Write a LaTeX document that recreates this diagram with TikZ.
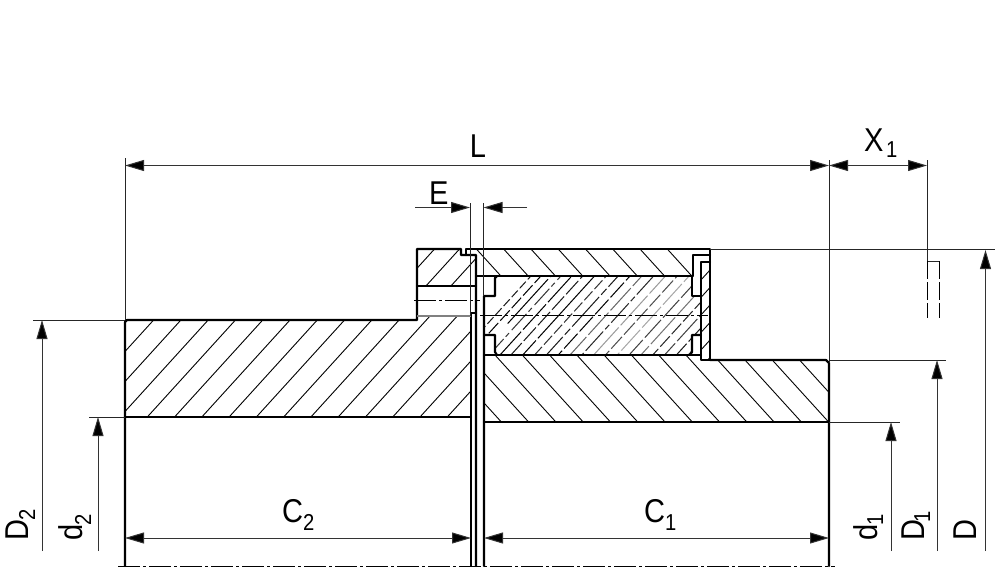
\documentclass[tikz,border=0pt]{standalone}
\usepackage{fontspec}
\setmainfont[FakeStretch=0.88]{Liberation Sans}
\usetikzlibrary{arrows.meta}
\newcommand{\rhatch}[3]{% rising lines: y+1.1x=c
  \foreach \k in {0,...,#3}{\pgfmathsetmacro{\cc}{#1+\k*#2}
    \draw[hatchline] (100,{\cc-110}) -- (850,{\cc-935});}}
\newcommand{\fhatch}[3]{% falling lines: y-1.1x=c
  \foreach \k in {0,...,#3}{\pgfmathsetmacro{\cc}{#1+\k*#2}
    \draw[hatchline] (100,{\cc+110}) -- (850,{\cc+935});}}
\tikzset{
  hatchline/.style={line width=0.9pt,black},
  thickline/.style={line width=2.2pt,black,line cap=round,line join=round},
  thinline/.style={line width=1pt,black!85},
  dimline/.style={line width=1pt,black!80,{Triangle[length=19pt,width=11pt,fill=black]}-{Triangle[length=19pt,width=11pt,fill=black]}},
  dimup/.style={line width=1pt,black!80,-{Triangle[length=19pt,width=11pt,fill=black]}},
  centerline/.style={line width=0.9pt,black,dash pattern=on 22pt off 3pt on 3pt off 3pt},
  holeline/.style={line width=0.9pt,black,dash pattern=on 18pt off 3pt},
  lab/.style={inner sep=0pt,font=\fontsize{33}{33}\selectfont},
  sublab/.style={inner sep=0pt,font=\fontsize{23}{23}\selectfont}
}
\begin{document}
\begin{tikzpicture}[x=1pt,y=-1pt]
\useasboundingbox (0,0) rectangle (997,568);
% hatching
\begin{scope}
\clip (125,320) -- (417,320) -- (417,316) -- (471,316) -- (471,417) -- (125,417) -- cycle;
\rhatch{489}{30}{16}
\end{scope}
\begin{scope}
\clip (417,249) -- (461,249) -- (461,255) -- (476,255) -- (476,286) -- (417,286) -- cycle;
\rhatch{727}{27.5}{3}
\end{scope}
\begin{scope}
\clip (466,249) -- (710,249) -- (710,255) -- (693,255) -- (693,276) -- (476,276) -- (476,255) -- (466,255) -- cycle;
\fhatch{-485}{30}{7}
\end{scope}
\begin{scope}
\clip (484,355) -- (701,355) -- (701,360) -- (829,360) -- (829,422) -- (484,422) -- cycle;
\fhatch{-519.5}{30}{14}
\end{scope}
\begin{scope}
\clip (701,262) -- (710,262) -- (710,360) -- (701,360) -- cycle;
\rhatch{1016}{17.5}{8}
\end{scope}
% elastomer hatching
\begin{scope}
\clip (484,296) -- (495,296) -- (495,278) -- (497,276) -- (690,276) -- (692,278) -- (692,296) -- (701,296) -- (701,335) -- (692,335) -- (692,352) -- (690,355) -- (497,355) -- (495,352) -- (495,335) -- (484,335) -- cycle;
\foreach \c/\g/\dsh in {
  860/90/{on 9pt off 3pt},
  871/100/{on 14pt off 3pt},
  882/100/{on 60pt off 3pt on 8pt off 30pt},
  893/80/{on 22pt off 3pt on 5pt off 4pt},
  905/100/{on 34pt off 3pt},
  917/90/{on 18pt off 3pt},
  930/100/{on 90pt off 3pt},
  943/80/{on 12pt off 3pt},
  956/90/{on 40pt off 3pt on 8pt off 3pt},
  969/100/{on 20pt off 3pt},
  982/60/{on 30pt off 3pt},
  995/85/{on 26pt off 3pt on 6pt off 3pt},
  1008/40/{on 40pt off 3pt},
  1021/70/{on 16pt off 3pt},
  1034/35/{on 28pt off 3pt},
  1047/75/{on 24pt off 3pt},
  1060/55/{on 36pt off 3pt},
  1073/85/{on 14pt off 3pt},
  1086/75/{on 30pt off 3pt},
  1099/90/{on 22pt off 3pt},
  1112/85/{on 18pt off 3pt},
  1125/85/{on 12pt off 3pt}}{
  \edef\tmp{\noexpand\draw[line width=1pt,black!\g,dash pattern=\dsh]}
  \tmp (100,{\c-110}) -- (850,{\c-935});
}
\end{scope}
% outlines: left hub and flange
\draw[thickline] (125,566) -- (125,322) -- (127,320) -- (417,320) -- (417,249) -- (461,249) -- (461,255) -- (476,255) -- (476,566);
\draw[thickline] (471,313) -- (471,566);
\draw[thickline] (471,313) -- (476,313);
\draw[thickline] (125,417) -- (471,417);
\draw[thickline] (417,286) -- (476,286);
\draw[line width=1.2pt,black!50] (417,316) -- (471,316);
% outlines: right hub and ring
\draw[thickline] (466,255) -- (466,249) -- (710,249) -- (710,360) -- (701,360) -- (701,262) -- (710,262);
\draw[thickline] (476,276) -- (692,276);
\draw[thickline] (693,276) -- (693,255) -- (710,255);
\draw[thickline] (692,276) -- (692,296) -- (701,296);
\draw[thickline] (484,566) -- (484,296) -- (495,296) -- (495,278) -- (497,276);
\draw[thickline] (484,335) -- (495,335) -- (495,352) -- (497,355);
\draw[thickline] (484,355) -- (701,355);
\draw[thickline] (701,335) -- (692,335) -- (692,352) -- (690,355);
\draw[thickline] (710,360) -- (826,360) -- (829,363) -- (829,566);
\draw[thickline] (484,422) -- (829,422);
% centre lines
\draw[centerline] (118,566) -- (835,566);
\draw[centerline] (414,300) -- (480,300);
\draw[centerline] (480,315.5) -- (708,315.5);
% witness lines
\draw[thinline] (125,158) -- (125,320);
\draw[thinline] (829,160) -- (829,363);
\draw[thinline] (927,160) -- (927,261);
\draw[thinline] (470,203) -- (470,316);
\draw[thinline] (483.5,203) -- (483.5,296);
\draw[thinline] (710,249) -- (995,249);
\draw[thinline] (33,320) -- (125,320);
\draw[thinline] (89,417) -- (125,417);
\draw[thinline] (829,360) -- (946,360);
\draw[thinline] (829,422) -- (900,422);
% hidden detail
\draw[thinline] (927,261) -- (939.5,261);
\draw[holeline] (927,261) -- (927,318);
\draw[holeline] (939.5,261) -- (939.5,318);
% dimensions
\draw[dimline] (125,165.5) -- (829,165.5);
\draw[dimline] (829,165.5) -- (927,165.5);
\draw[dimup] (415,207.5) -- (470,207.5);
\draw[dimup] (527,207.5) -- (483.5,207.5);
\draw[dimline] (125,538) -- (471,538);
\draw[dimline] (484,538) -- (829,538);
\draw[dimup] (42,551) -- (42,320);
\draw[dimup] (98,551) -- (98,417);
\draw[dimup] (891,551) -- (891,422);
\draw[dimup] (937,551) -- (937,360);
\draw[dimup] (985.5,551) -- (985.5,250);
% labels
\node[lab,anchor=base] (tL) at (478,157) {L};
\node[lab,anchor=base west] (tE) at (429,204) {E};
\node[lab,anchor=base west] (tX) at (864,151) {X};
\node[sublab,anchor=base west] (tXs) at (886,157) {1};
\node[lab,anchor=base west] (tCa) at (282,522) {C};
\node[sublab,anchor=base west] (tCas) at (303,530) {2};
\node[lab,anchor=base west] (tCb) at (644,522) {C};
\node[sublab,anchor=base west] (tCbs) at (665,530) {1};
\node[lab,rotate=90,anchor=base west] (tD2) at (28,541) {D};
\node[sublab,rotate=90,anchor=base west] (tD2s) at (35,521) {2};
\node[lab,rotate=90,anchor=base west] (td2) at (82,541) {d};
\node[sublab,rotate=90,anchor=base west] (td2s) at (91,526) {2};
\node[lab,rotate=90,anchor=base west] (td1) at (877,541) {d};
\node[sublab,rotate=90,anchor=base west] (td1s) at (883,526) {1};
\node[lab,rotate=90,anchor=base west] (tD1) at (924,541) {D};
\node[sublab,rotate=90,anchor=base west] (tD1s) at (930,523) {1};
\node[lab,rotate=90,anchor=base west] (tD) at (976,541) {D};
\end{tikzpicture}
\end{document}
